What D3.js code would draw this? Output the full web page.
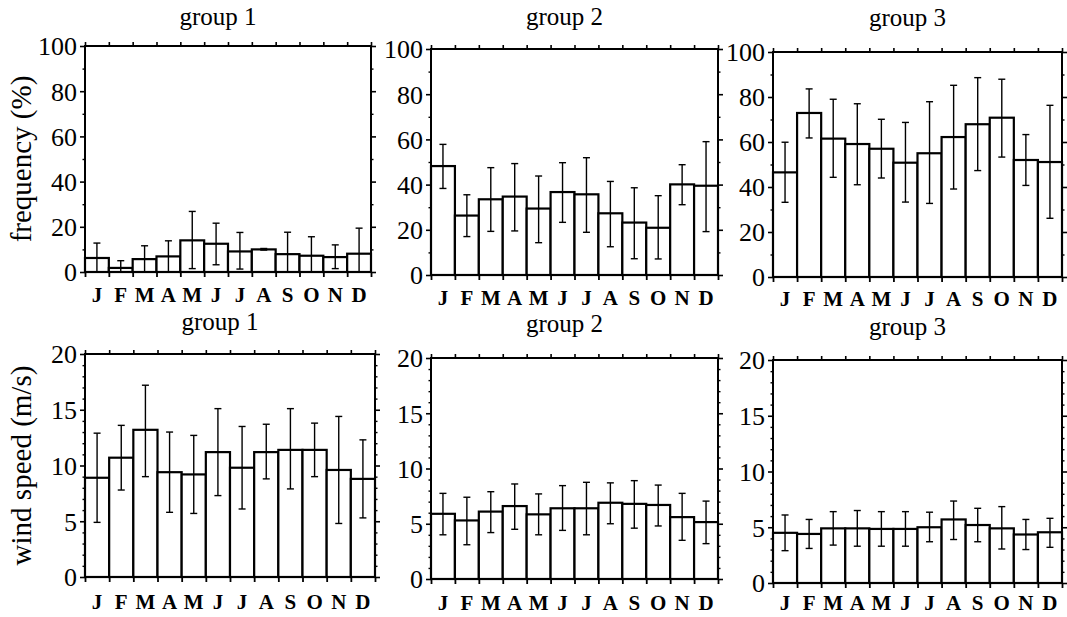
<!DOCTYPE html>
<html>
<head>
<meta charset="utf-8">
<script src="https://cdn.jsdelivr.net/npm/d3@7/dist/d3.min.js"></script>
<style>
  html, body { margin: 0; padding: 0; background: #fff; }
  svg { display: block; }
</style>
</head>
<body>
<svg id="chart" width="1067" height="617"></svg>
<script>
// Month labels shared by every panel
const months = ["J", "F", "M", "A", "M", "J", "J", "A", "S", "O", "N", "D"];

// Frequency (%) by month: mean, lower and upper error limits
const freqG1 = [6.2, 1.8, 5.7, 6.9, 14.0, 12.5, 9.1, 10.0, 7.9, 7.2, 6.6, 8.1];
const freqG1Lo = [0, 0, 0, 0, 1.5, 3.2, 1.3, 9.7, 0, 0, 1.5, 0];
const freqG1Hi = [12.8, 5.0, 11.6, 13.8, 26.8, 21.6, 17.5, 10.4, 17.6, 15.6, 12.0, 19.4];

const freqG2 = [48.2, 26.3, 33.5, 34.7, 29.4, 36.7, 35.7, 27.3, 23.2, 20.9, 40.1, 39.5];
const freqG2Lo = [38.3, 17.0, 19.3, 19.5, 14.3, 23.3, 18.9, 12.5, 7.2, 7.1, 31.1, 19.2];
const freqG2Hi = [57.8, 35.5, 47.5, 49.3, 43.8, 49.7, 51.9, 41.4, 38.6, 35.1, 48.8, 59.0];

const freqG3 = [46.5, 72.9, 61.5, 59.1, 57.0, 50.8, 55.0, 62.2, 67.9, 70.8, 52.0, 51.1];
const freqG3Lo = [33.2, 61.8, 44.3, 41.0, 44.0, 33.3, 32.7, 39.1, 47.3, 53.3, 40.7, 26.1];
const freqG3Hi = [59.9, 83.6, 79.0, 77.0, 70.1, 68.7, 77.9, 85.2, 88.6, 87.9, 63.3, 76.3];

// Wind speed (m/s) by month: mean, lower and upper error limits
const windG1 = [8.9, 10.7, 13.2, 9.4, 9.2, 11.2, 9.8, 11.2, 11.4, 11.4, 9.6, 8.8];
const windG1Lo = [4.9, 7.8, 9.0, 5.8, 5.7, 7.3, 6.1, 8.8, 7.9, 9.0, 4.8, 5.3];
const windG1Hi = [12.9, 13.6, 17.2, 13.0, 12.7, 15.1, 13.5, 13.7, 15.1, 13.8, 14.4, 12.3];

const windG2 = [5.9, 5.3, 6.1, 6.6, 5.85, 6.4, 6.4, 6.9, 6.8, 6.7, 5.6, 5.15];
const windG2Lo = [4.0, 3.1, 4.2, 4.5, 4.0, 4.4, 4.0, 5.0, 4.6, 4.8, 3.5, 3.2];
const windG2Hi = [7.75, 7.4, 7.9, 8.6, 7.7, 8.45, 8.75, 8.7, 8.9, 8.5, 7.75, 7.05];

const windG3 = [4.5, 4.4, 4.9, 4.9, 4.85, 4.85, 5.0, 5.7, 5.2, 4.9, 4.35, 4.55];
const windG3Lo = [2.9, 3.1, 3.4, 3.3, 3.3, 3.3, 3.7, 3.9, 3.7, 3.05, 3.0, 3.2];
const windG3Hi = [6.1, 5.7, 6.4, 6.5, 6.4, 6.4, 6.35, 7.35, 6.7, 6.85, 5.7, 5.8];

// Axis tick values
const freqTicks = [0, 20, 40, 60, 80, 100];
const freqMinor = [10, 30, 50, 70, 90];
const windTicks = [0, 5, 10, 15, 20];
const windMinor = [1, 2, 3, 4, 6, 7, 8, 9, 11, 12, 13, 14, 16, 17, 18, 19];

const FONT = '"Liberation Serif", "Times New Roman", serif';

// Panel frames (plot area in pixels) and label baselines
const panels = [
  { title: "group 1", mean: freqG1, lo: freqG1Lo, hi: freqG1Hi, max: 100, ticks: freqTicks, minor: freqMinor,
    x0: 85, x1: 371, y0: 46, y1: 272, monthY: 302, titleY: 25, ylabel: "frequency (%)" },
  { title: "group 2", mean: freqG2, lo: freqG2Lo, hi: freqG2Hi, max: 100, ticks: freqTicks, minor: freqMinor,
    x0: 431, x1: 718, y0: 49, y1: 275, monthY: 305, titleY: 25 },
  { title: "group 3", mean: freqG3, lo: freqG3Lo, hi: freqG3Hi, max: 100, ticks: freqTicks, minor: freqMinor,
    x0: 773, x1: 1062, y0: 52, y1: 277, monthY: 306, titleY: 26 },
  { title: "group 1", mean: windG1, lo: windG1Lo, hi: windG1Hi, max: 20, ticks: windTicks, minor: windMinor,
    x0: 85, x1: 375, y0: 354, y1: 577, monthY: 609, titleY: 330, ylabel: "wind speed (m/s)" },
  { title: "group 2", mean: windG2, lo: windG2Lo, hi: windG2Hi, max: 20, ticks: windTicks, minor: windMinor,
    x0: 431, x1: 718, y0: 358, y1: 579, monthY: 610, titleY: 332 },
  { title: "group 3", mean: windG3, lo: windG3Lo, hi: windG3Hi, max: 20, ticks: windTicks, minor: windMinor,
    x0: 773, x1: 1062, y0: 360, y1: 583, monthY: 610, titleY: 335 }
];

const svg = d3.select("#chart");

panels.forEach(p => {
  const g = svg.append("g");
  const idx = d3.range(months.length);
  const x = d3.scaleBand().domain(idx).range([p.x0, p.x1]).padding(0);
  const y = d3.scaleLinear().domain([0, p.max]).range([p.y1, p.y0]);
  const cx = i => x(i) + x.bandwidth() / 2;

  // bars
  g.selectAll("rect.bar").data(idx).join("rect")
    .attr("class", "bar")
    .attr("x", i => x(i))
    .attr("width", x.bandwidth())
    .attr("y", i => y(p.mean[i]))
    .attr("height", i => y(0) - y(p.mean[i]))
    .attr("fill", "#fff")
    .attr("stroke", "#000")
    .attr("stroke-width", 2.2);

  // error bars
  const eb = g.selectAll("g.err").data(idx).join("g").attr("class", "err")
    .attr("stroke", "#000").attr("stroke-width", 1.4);
  eb.append("line")
    .attr("x1", cx).attr("x2", cx)
    .attr("y1", i => y(p.lo[i])).attr("y2", i => y(p.hi[i]));
  eb.append("line")
    .attr("x1", i => cx(i) - 3.5).attr("x2", i => cx(i) + 3.5)
    .attr("y1", i => y(p.hi[i])).attr("y2", i => y(p.hi[i]));
  eb.append("line")
    .attr("x1", i => cx(i) - 3.5).attr("x2", i => cx(i) + 3.5)
    .attr("y1", i => y(p.lo[i])).attr("y2", i => y(p.lo[i]));

  // frame
  g.append("rect")
    .attr("x", p.x0).attr("y", p.y0)
    .attr("width", p.x1 - p.x0).attr("height", p.y1 - p.y0)
    .attr("fill", "none").attr("stroke", "#000").attr("stroke-width", 2);

  // month boundaries as ticks on top and bottom
  const bounds = d3.scaleLinear().domain([0, 12]).range([p.x0, p.x1]);
  const edgeVals = d3.range(13);
  g.append("g").attr("transform", `translate(0,${p.y1})`)
    .call(d3.axisBottom(bounds).tickValues(edgeVals).tickSize(5).tickFormat(""))
    .call(a => a.select(".domain").remove())
    .call(a => a.selectAll("line").attr("stroke-width", 1.8));
  g.append("g").attr("transform", `translate(0,${p.y0})`)
    .call(d3.axisTop(bounds).tickValues(edgeVals).tickSize(4).tickFormat(""))
    .call(a => a.select(".domain").remove())
    .call(a => a.selectAll("line").attr("stroke-width", 1.6));

  // month labels
  g.selectAll("text.month").data(idx).join("text")
    .attr("class", "month")
    .attr("x", cx)
    .attr("y", p.monthY)
    .attr("text-anchor", "middle")
    .style("font-family", FONT)
    .style("font-size", "21px")
    .style("font-weight", "bold")
    .text(i => months[i]);

  // left axis: major ticks with labels, minor ticks
  g.append("g").attr("transform", `translate(${p.x0},0)`)
    .call(d3.axisLeft(y).tickValues(p.ticks).tickSize(5).tickPadding(3).tickFormat(d3.format("d")))
    .call(a => a.select(".domain").remove())
    .call(a => a.selectAll("line").attr("stroke-width", 1.6))
    .call(a => a.selectAll("text")
      .style("font-family", FONT)
      .style("font-size", "26px")
      .attr("fill", "#000")
      .attr("dy", "0.34em"));
  g.append("g").attr("transform", `translate(${p.x0},0)`)
    .call(d3.axisLeft(y).tickValues(p.minor).tickSize(2.5).tickFormat(""))
    .call(a => a.select(".domain").remove())
    .call(a => a.selectAll("line").attr("stroke-width", 1.4));

  // right axis: major ticks outward, minor ticks
  g.append("g").attr("transform", `translate(${p.x1},0)`)
    .call(d3.axisRight(y).tickValues(p.ticks).tickSize(5).tickFormat(""))
    .call(a => a.select(".domain").remove())
    .call(a => a.selectAll("line").attr("stroke-width", 1.6));
  g.append("g").attr("transform", `translate(${p.x1},0)`)
    .call(d3.axisRight(y).tickValues(p.minor).tickSize(2.5).tickFormat(""))
    .call(a => a.select(".domain").remove())
    .call(a => a.selectAll("line").attr("stroke-width", 1.4));

  // panel title
  g.append("text")
    .attr("x", (p.x0 + p.x1) / 2 - 10)
    .attr("y", p.titleY)
    .attr("text-anchor", "middle")
    .style("font-family", FONT)
    .style("font-size", "25px")
    .text(p.title);

  // y-axis title
  if (p.ylabel) {
    g.append("text")
      .attr("transform", `translate(31,${(p.y0 + p.y1) / 2}) rotate(-90)`)
      .attr("text-anchor", "middle")
      .style("font-family", FONT)
      .style("font-size", "29px")
      .text(p.ylabel);
  }
});
</script>
</body>
</html>
